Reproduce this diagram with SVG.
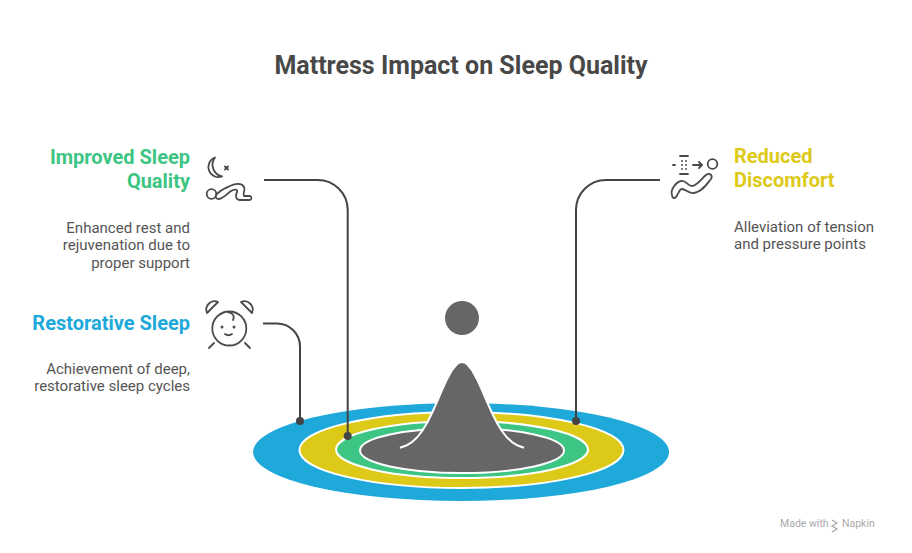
<svg xmlns="http://www.w3.org/2000/svg" width="912" height="553" viewBox="0 0 912 553">
<style>
.title{font-family:Roboto,"Liberation Sans",sans-serif;font-weight:700;font-size:25px;fill:#484848}
.head{font-family:Roboto,"Liberation Sans",sans-serif;font-weight:700;font-size:20px}
.desc{font-family:Roboto,"Liberation Sans",sans-serif;font-size:15px;fill:#555}
.conn{fill:none;stroke:#444;stroke-width:2}
.dot{fill:#444}
.icon{fill:none;stroke:#4a4a4a;stroke-width:1.8;stroke-linecap:round;stroke-linejoin:round}
.ring{stroke:#fff;stroke-width:2}
</style>
<rect width="912" height="553" fill="#fff"/>
<text class="title" x="461" y="74" text-anchor="middle">Mattress Impact on Sleep Quality</text>

<g id="rings">
<ellipse cx="461" cy="452" rx="208" ry="49" fill="#1EA9DA"/>
<ellipse class="ring" cx="461.5" cy="450" rx="162" ry="38" fill="#DDC917"/>
<ellipse class="ring" cx="462" cy="449.5" rx="126" ry="28.5" fill="#3CC583"/>
<ellipse class="ring" cx="462" cy="450.5" rx="102" ry="22.5" fill="#666"/>
</g>
<g id="peak">
<path d="M400,447.8 L407,445.2 L412,442.1 L417,437.5 L422,431.2 L427,423 L432,413 L437,401.8 L442,390.2 L447,379.2 L452,370.1 L457,364.1 L459.5,362.5 L462,362 L464.5,362.5 L467,364.1 L472,370.1 L477,379.2 L482,390.2 L487,401.8 L492,413 L497,423 L502,431.2 L507,437.5 L512,442.1 L517,445.2 L524,447.8 L524,452 L400,452 Z" fill="#666"/>
<path d="M400,447.8 L407,445.2 L412,442.1 L417,437.5 L422,431.2 L427,423 L432,413 L437,401.8 L442,390.2 L447,379.2 L452,370.1 L457,364.1 L459.5,362.5 L462,362 L464.5,362.5 L467,364.1 L472,370.1 L477,379.2 L482,390.2 L487,401.8 L492,413 L497,423 L502,431.2 L507,437.5 L512,442.1 L517,445.2 L524,447.8" fill="none" stroke="#fff" stroke-width="2" stroke-linejoin="round"/>
<circle cx="462" cy="318" r="17" fill="#666"/>
</g>

<g id="connectors">
<path class="conn" d="M264,180 H317.7 A30,30 0 0 1 347.7,210 V436"/>
<path class="conn" d="M263,323.5 H277 A23,23 0 0 1 300,346.5 V421"/>
<path class="conn" d="M660,180 H606 A30,30 0 0 0 576,210 V421"/>
<circle class="dot" cx="347.7" cy="436" r="4"/>
<circle class="dot" cx="300" cy="421" r="4"/>
<circle class="dot" cx="576" cy="421" r="4"/>
</g>

<g id="node-improved">
<text class="head" fill="#3CC583" x="190" y="164" text-anchor="end">Improved Sleep</text>
<text class="head" fill="#3CC583" x="190" y="188" text-anchor="end">Quality</text>
<text class="desc" x="190" y="232.5" text-anchor="end">Enhanced rest and</text>
<text class="desc" x="190" y="250" text-anchor="end">rejuvenation due to</text>
<text class="desc" x="190" y="267.5" text-anchor="end">proper support</text>
<g class="icon">
<path d="M215,157.5 A10,10 0 1 0 222,176.5 A12,12 0 0 1 215,157.5 Z"/>
<path d="M225,166.5 L228,169.5 M228,166.5 L225,169.5"/>
<circle cx="211.5" cy="194" r="4.8"/>
<path d="M216,195 C220,190 226,188 230,186 C236,183 242,183 244,187 C246,191 242,193 244,196 L250,196 C252,197 252,200 249,200 L240,200 C236,200 235,196 237,192 C238,189 234,189 231,191 C227,194 224,198 219,199 C216,199 215,197 216,195 Z"/>
</g>
</g>

<g id="node-restorative">
<text class="head" fill="#1EA9DA" x="190" y="329.5" text-anchor="end">Restorative Sleep</text>
<text class="desc" x="190" y="374" text-anchor="end">Achievement of deep,</text>
<text class="desc" x="190" y="391" text-anchor="end">restorative sleep cycles</text>
<g class="icon">
<circle cx="229.3" cy="328.5" r="17"/>
<path d="M207,313 C204,306 211,299 218,302 Z"/>
<path d="M252,313 C255,306 248,299 241,302 Z"/>
<path d="M214,343 L209,348 M245,343 L250,348"/>
<path d="M225,334 Q228.5,336.5 232,334"/>
<path d="M228,312 C233,313 235,316 233,320"/>
<circle cx="222" cy="327" r="0.6" fill="#4a4a4a"/>
<circle cx="234" cy="327" r="0.6" fill="#4a4a4a"/>
</g>
</g>

<g id="node-reduced">
<text class="head" fill="#DDC917" x="734" y="162.5">Reduced</text>
<text class="head" fill="#DDC917" x="734" y="186.5">Discomfort</text>
<text class="desc" x="734" y="231.5">Alleviation of tension</text>
<text class="desc" x="734" y="248.5">and pressure points</text>
<g class="icon">
<circle cx="712.5" cy="164" r="4.8"/>
<path d="M693,165 H702 M699,162 L702,165 L699,168"/>
<path d="M680,156 H688 M680,174 H688 M673,165 H675"/>
<path d="M682,161 h0.1 M686,161 h0.1 M682,165 h0.1 M686,165 h0.1 M682,169 h0.1 M686,169 h0.1"/>
<path d="M672,195 C670,190 676,182 681,181 C686,180 688,186 692,186 C697,186 702,178 706,175 C710,172 713,176 711,179 C707,184 702,192 694,193 C688,194 686,189 682,189 C679,189 678,195 676,197 C674,199 672,198 672,195 Z"/>
</g>
</g>

<g id="watermark">
<text x="780" y="527" font-family="Roboto,'Liberation Sans',sans-serif" font-size="10.5" fill="#aaa">Made with</text>
<path d="M832,520 l5,3 l-5,3 l5,3 l-5,3" fill="none" stroke="#aaa" stroke-width="1.3"/>
<text x="842" y="527" font-family="Roboto,'Liberation Sans',sans-serif" font-size="10.5" fill="#aaa">Napkin</text>
</g>
</svg>
